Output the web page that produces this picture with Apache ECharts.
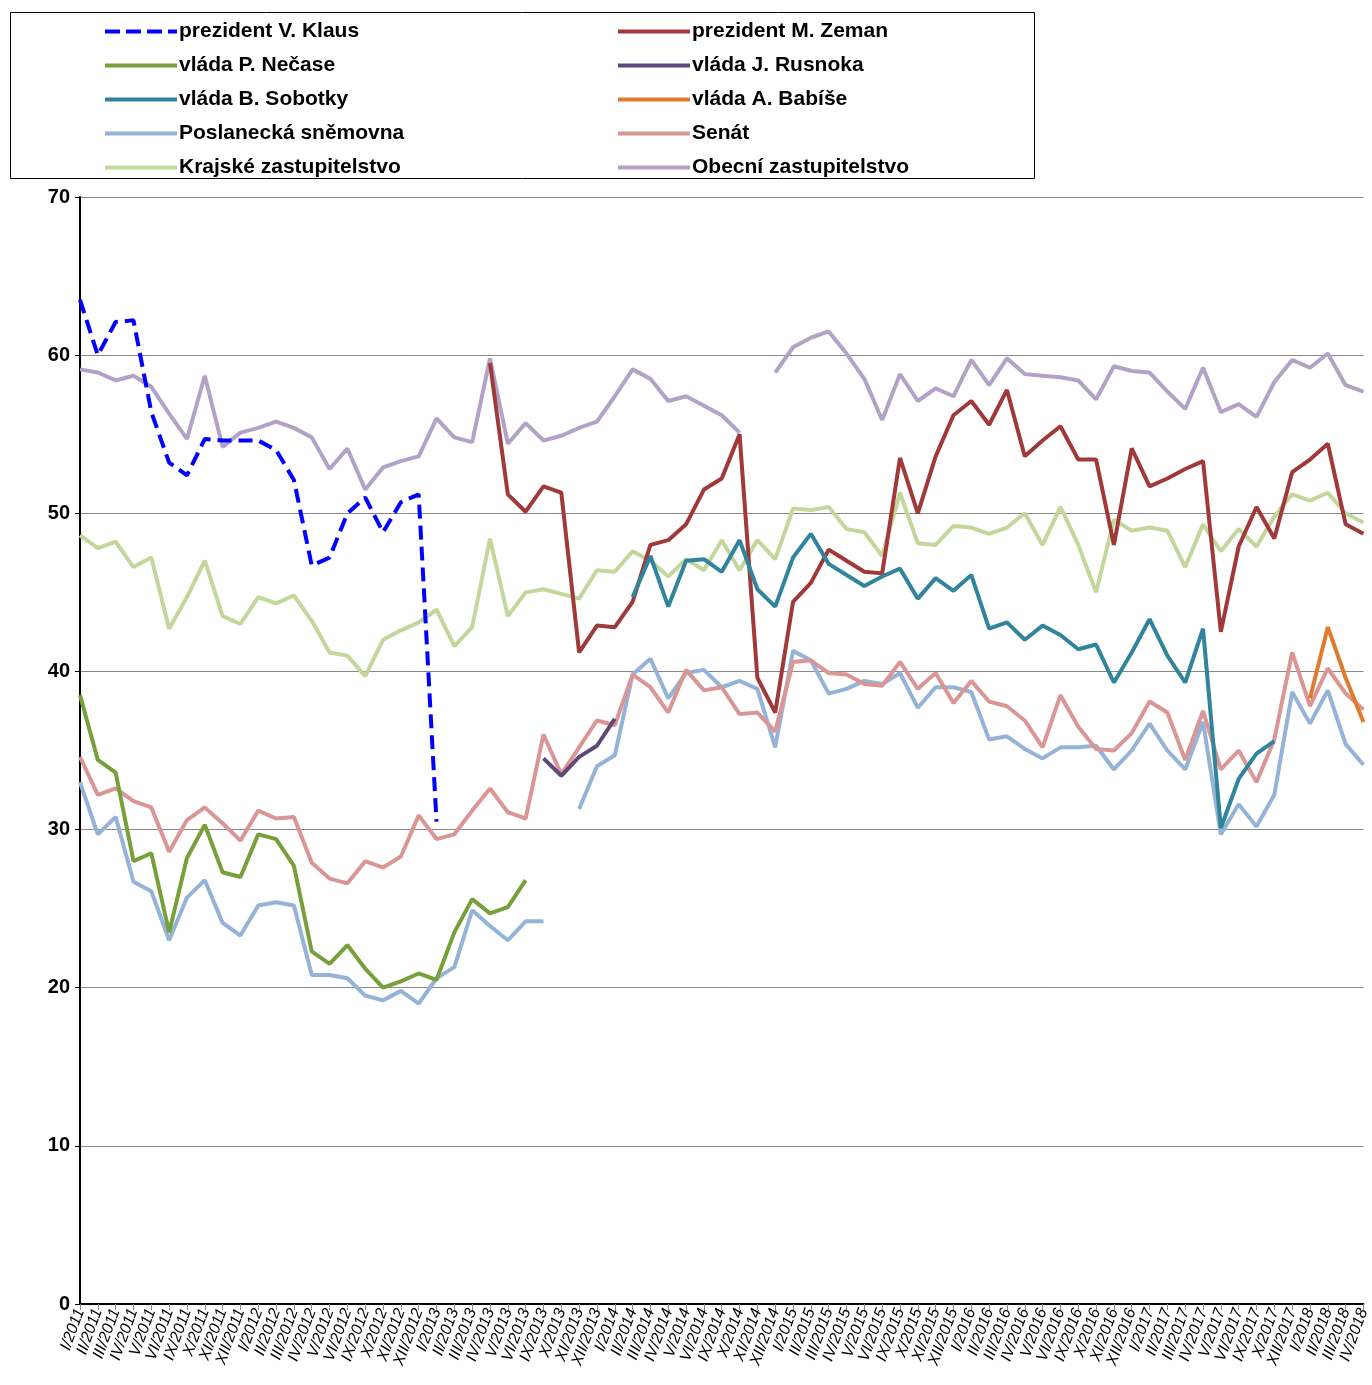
<!DOCTYPE html>
<html><head><meta charset="utf-8">
<script src="https://cdn.jsdelivr.net/npm/echarts@6/dist/echarts.min.js"></script>
<style>html,body{margin:0;background:#fff}#c{width:1372px;height:1385px}</style>
</head><body><div id="c"></div>
<script>
const romans = ['I','II','III','IV','V','VI','IX','X','XI','XII'];
const months = [];
for (let y = 2011; y <= 2018; y++) {
  romans.forEach(r => {
    if (y === 2017 && r === 'XI') return;
    if (y === 2018 && ['V','VI','IX','X','XI','XII'].includes(r)) return;
    months.push(r + '/' + y);
  });
}
const _ = null;
const klaus = [63.5,60.0,62.1,62.2,56.4,53.2,52.4,54.7,54.6,54.6,54.6,54.0,52.1,46.7,47.2,50.0,51.0,48.8,50.7,51.2,30.5];
const necas = [38.5,34.4,33.6,28.0,28.5,23.5,28.2,30.3,27.3,27.0,29.7,29.4,27.7,22.3,21.5,22.7,21.2,20.0,20.4,20.9,20.5,23.5,25.6,24.7,25.1,26.8];
const poslanci = [33.0,29.7,30.8,26.7,26.1,23.0,25.7,26.8,24.1,23.3,25.2,25.4,25.2,20.8,20.8,20.6,19.5,19.2,19.8,19.0,20.6,21.3,24.9,23.9,23.0,24.2,24.2,_,
  31.3,34.0,34.7,39.8,40.8,38.3,39.9,40.1,39.0,39.4,38.9,35.2,41.3,40.7,38.6,38.9,39.4,39.2,39.9,37.7,39.0,39.0,38.7,35.7,35.9,35.1,34.5,35.2,35.2,35.3,33.8,35.0,36.7,35.0,33.8,36.8,29.7,31.6,30.2,32.2,38.7,36.7,38.8,35.4,34.1];
const senat = [34.6,32.2,32.6,31.8,31.4,28.6,30.6,31.4,30.4,29.3,31.2,30.7,30.8,27.9,26.9,26.6,28.0,27.6,28.3,30.9,29.4,29.7,31.2,32.6,31.1,30.7,36.0,33.5,35.2,36.9,36.6,39.8,39.0,37.4,40.1,38.8,39.0,37.3,37.4,36.2,40.6,40.7,39.9,39.8,39.2,39.1,40.6,38.9,39.9,38.0,39.4,38.1,37.8,36.9,35.2,38.5,36.5,35.1,35.0,36.1,38.1,37.4,34.4,37.5,33.8,35.0,33.0,35.7,41.2,37.8,40.2,38.6,37.6];
const kraj = [48.6,47.8,48.2,46.6,47.2,42.7,44.7,47.0,43.5,43.0,44.7,44.3,44.8,43.2,41.2,41.0,39.7,42.0,42.6,43.1,43.9,41.6,42.8,48.4,43.5,45.0,45.2,44.9,44.6,46.4,46.3,47.6,47.0,46.0,47.1,46.4,48.3,46.4,48.3,47.1,50.3,50.2,50.4,49.0,48.8,47.3,51.3,48.1,48.0,49.2,49.1,48.7,49.1,50.0,48.0,50.4,48.0,45.0,49.6,48.9,49.1,48.9,46.6,49.3,47.6,49.0,47.9,49.8,51.2,50.8,51.3,50.0,49.4];
const obec = [59.1,58.9,58.4,58.7,58.0,56.3,54.7,58.7,54.2,55.1,55.4,55.8,55.4,54.8,52.8,54.1,51.5,52.9,53.3,53.6,56.0,54.8,54.5,59.8,54.4,55.7,54.6,54.9,55.4,55.8,57.4,59.1,58.5,57.1,57.4,56.8,56.2,55.1,_,
  58.9,60.5,61.1,61.5,60.1,58.5,55.9,58.8,57.1,57.9,57.4,59.7,58.1,59.8,58.8,58.7,58.6,58.4,57.2,59.3,59.0,58.9,57.7,56.6,59.2,56.4,56.9,56.1,58.3,59.7,59.2,60.1,58.1,57.7];
const zeman = new Array(23).fill(_).concat([59.5,51.2,50.1,51.7,51.3,41.2,42.9,42.8,44.4,48.0,48.3,49.3,51.5,52.2,55.0,39.6,37.4,44.4,45.6,47.7,47.0,46.3,46.2,53.5,50.0,53.6,56.2,57.1,55.6,57.8,53.6,54.6,55.5,53.4,53.4,48.0,54.1,51.7,52.2,52.8,53.3,42.5,47.9,50.4,48.4,52.6,53.4,54.4,49.3,48.7]);
const rusnok = new Array(26).fill(_).concat([34.5,33.4,34.6,35.3,37.0]);
const sobotka = new Array(31).fill(_).concat([44.7,47.3,44.1,47.0,47.1,46.3,48.3,45.2,44.1,47.2,48.7,46.8,46.1,45.4,46.0,46.5,44.6,45.9,45.1,46.1,42.7,43.1,42.0,42.9,42.3,41.4,41.7,39.3,41.2,43.3,41.0,39.3,42.7,30.1,33.2,34.8,35.6]);
const babis = new Array(69).fill(_).concat([38.3,42.8,39.6,36.8]);

const defs = [
  ['prezident V. Klaus', klaus, '#0000FF', 'dashed'],
  ['prezident M. Zeman', zeman, '#A0393A'],
  ['vláda P. Nečase', necas, '#77A03B'],
  ['vláda J. Rusnoka', rusnok, '#60497A'],
  ['vláda B. Sobotky', sobotka, '#31849B'],
  ['vláda A. Babíše', babis, '#E07B2E'],
  ['Poslanecká sněmovna', poslanci, '#95B3D7'],
  ['Senát', senat, '#D99694'],
  ['Krajské zastupitelstvo', kraj, '#C3D69B'],
  ['Obecní zastupitelstvo', obec, '#B3A2C7']
];
const dashIcon = 'path://M0,0h15v4h-15z M21,0h15v4h-15z M42,0h15v4h-15z M63,0h9v4h-9z';
const legendBase = {
  orient: 'vertical', top: 16, itemWidth: 72, itemHeight: 4, itemGap: 13,
  textStyle: {fontSize: 21, fontWeight: 'bold', color: '#000', lineHeight: 20, padding: [0,0,0,-3]}
};
const legendItem = d => ({name: d[0], icon: d[3] ? dashIcon : 'rect'});
const order = [6,7,8,9,1,2,3,4,5,0];
const chart = echarts.init(document.getElementById('c'));
chart.setOption({
  animation: false,
  textStyle: {fontFamily: 'Liberation Sans, Arial, sans-serif'},
  graphic: [{type: 'rect', shape: {x: 10.5, y: 12.5, width: 1024, height: 166}, style: {fill: '#fff', stroke: '#000', lineWidth: 1}, z: -1}],
  legend: [
    Object.assign({}, legendBase, {left: 100, data: [0,2,4,6,8].map(i => legendItem(defs[i]))}),
    Object.assign({}, legendBase, {left: 613, data: [1,3,5,7,9].map(i => legendItem(defs[i]))})
  ],
  grid: {left: 80, right: 7, top: 197, bottom: 81},
  xAxis: {
    type: 'category', data: months, boundaryGap: false,
    axisLine: {lineStyle: {color: '#000', width: 2}},
    axisTick: {interval: 0, lineStyle: {color: '#888'}, length: 6},
    axisLabel: {interval: 0, rotate: 70, fontStyle: 'italic', fontSize: 16, color: '#000', margin: 5}
  },
  yAxis: {
    type: 'value', min: 0, max: 70, interval: 10,
    axisLine: {show: true, lineStyle: {color: '#000', width: 2}},
    axisTick: {show: true, lineStyle: {color: '#000'}},
    axisLabel: {fontSize: 20, fontWeight: 'bold', color: '#000', margin: 10},
    splitLine: {lineStyle: {color: '#888', width: 1}}
  },
  series: order.map((i, k) => {
    const d = defs[i];
    return {
      name: d[0], type: 'line', data: d[1], showSymbol: false, symbol: 'none',
      connectNulls: false, z: 2 + k,
      lineStyle: {color: d[2], width: 4, type: d[3] ? [14, 7] : 'solid'},
      itemStyle: {color: d[2]}
    };
  })
});
</script></body></html>
